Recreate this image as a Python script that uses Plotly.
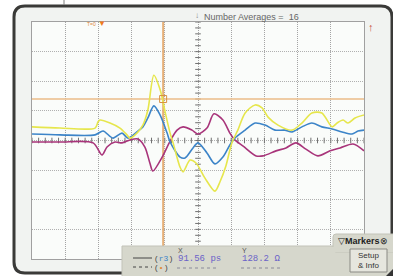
import plotly.graph_objects as go
import numpy as np

# ---- data (time and amplitude in screen divisions) ----
yellow_x = [-5.0, -4.16, -3.10, -3.01, -2.95, -2.65, -2.35, -2.14, -2.05, -1.84, -1.66, -1.51, -1.33, -1.14, -0.99,
            -0.84, -0.75, -0.54, -0.45, -0.24, -0.06, 0.21, 0.51, 0.66, 0.84, 1.02, 1.20, 1.42, 1.72, 1.93, 2.11,
            2.41, 2.83, 3.13, 3.43, 3.73, 4.04, 4.19, 4.37, 4.52, 4.73, 5.0]
yellow_y = [0.46, 0.42, 0.42, 0.63, 0.69, 0.59, 0.42, 0.19, 0.08, 0.25, 0.52, 1.03, 2.20, 1.71, 0.96,
            0.25, -0.08, -0.90, -1.06, -0.66, -0.76, -1.27, -1.71, -1.40, -0.86, -0.08, 0.35, 0.93, 1.20, 1.10, 0.79,
            0.52, 0.35, 0.59, 0.93, 0.93, 0.46, 0.59, 0.69, 0.59, 0.76, 0.86]

blue_x = [-5.0, -4.16, -3.10, -2.86, -2.56, -2.29, -2.11, -1.84, -1.66, -1.51, -1.33, -1.14, -0.93, -0.84, -0.54,
          -0.39, -0.15, 0.0, 0.27, 0.51, 0.75, 0.96, 1.11, 1.42, 1.72, 2.02, 2.32, 2.62, 2.83, 3.13, 3.43, 3.73,
          4.04, 4.34, 4.64, 4.82, 5.0]
blue_y = [0.22, 0.19, 0.19, 0.32, 0.08, 0.25, 0.08, 0.29, 0.46, 0.76, 1.17, 0.86, 0.25, -0.05, -0.56,
          -0.59, -0.25, -0.08, -0.42, -0.79, -0.56, -0.15, 0.08, 0.35, 0.59, 0.52, 0.35, 0.35, 0.29, 0.46, 0.59, 0.46,
          0.39, 0.29, 0.22, 0.32, 0.35]

magenta_x = [-5.0, -4.16, -3.16, -2.89, -2.74, -2.50, -2.29, -2.05, -1.81, -1.60, -1.45, -1.36, -1.08, -0.84, -0.63,
             -0.45, -0.18, 0.0, 0.27, 0.48, 0.75, 0.96, 1.11, 1.36, 1.75, 1.96, 2.35, 2.65, 2.95, 3.25, 3.61, 3.98,
             4.28, 4.67, 5.0]
magenta_y = [-0.05, -0.05, -0.08, -0.49, -0.22, -0.05, -0.08, 0.02, 0.05, -0.22, -0.76, -1.03, -0.56, -0.02, 0.35,
             0.46, 0.35, 0.22, 0.42, 0.90, 0.69, 0.25, 0.02, -0.19, -0.52, -0.52, -0.35, -0.25, -0.08, -0.29, -0.52,
             -0.35, -0.25, -0.12, -0.35]

cursor_x = -1.05
cursor_y = 1.40

title_text = "Number Averages =  16"
x_readout = "91.56 ps"
y_readout = "128.2 Ω"

# ---- layout helpers (pixel -> paper) ----
W, H = 393, 276
def px(x):
    return x / W
def py(y):
    return 1 - y / H

def rrect(x0, y0, x1, y1, r):
    return (f"M{px(x0+r)},{py(y0)} L{px(x1-r)},{py(y0)} Q{px(x1)},{py(y0)} {px(x1)},{py(y0+r)} "
            f"L{px(x1)},{py(y1-r)} Q{px(x1)},{py(y1)} {px(x1-r)},{py(y1)} "
            f"L{px(x0+r)},{py(y1)} Q{px(x0)},{py(y1)} {px(x0)},{py(y1-r)} "
            f"L{px(x0)},{py(y0+r)} Q{px(x0)},{py(y0)} {px(x0+r)},{py(y0)} Z")

fig = go.Figure()

# centre-line minor ticks
tx = [v / 5 for v in range(-25, 26)]
ty = [v / 5 for v in range(-20, 21)]
fig.add_trace(go.Scatter(x=tx, y=[0] * len(tx), mode="markers", hoverinfo="skip",
                         marker=dict(symbol="line-ns", size=4, line=dict(width=1, color="#707070"))))
fig.add_trace(go.Scatter(x=[0] * len(ty), y=ty, mode="markers", hoverinfo="skip",
                         marker=dict(symbol="line-ew", size=4, line=dict(width=1, color="#707070"))))

# cursors
fig.add_trace(go.Scatter(x=[-5, 5], y=[cursor_y, cursor_y], mode="lines",
                         line=dict(color="#ebbc88", width=1.3), hoverinfo="skip"))
fig.add_trace(go.Scatter(x=[cursor_x, cursor_x], y=[-4, 4], mode="lines",
                         line=dict(color="#e6b078", width=2), hoverinfo="skip"))

# traces
fig.add_trace(go.Scatter(x=magenta_x, y=magenta_y, mode="lines", line=dict(color="#a8347a", width=1.6, shape="spline", smoothing=0.8)))
fig.add_trace(go.Scatter(x=blue_x, y=blue_y, mode="lines", line=dict(color="#3c84c8", width=1.6, shape="spline", smoothing=0.8)))
fig.add_trace(go.Scatter(x=yellow_x, y=yellow_y, mode="lines", line=dict(color="#e6e64c", width=1.6, shape="spline", smoothing=0.8)))

# cursor marker square
fig.add_trace(go.Scatter(x=[cursor_x], y=[cursor_y], mode="markers", hoverinfo="skip",
                         marker=dict(symbol="square-open", size=7, color="#d89040", line=dict(width=1))))

panel = "#d6d7cc"
shapes = [
    # instrument frame
    dict(type="path", path=rrect(14, 6, 392, 273, 11), xref="paper", yref="paper",
         line=dict(color="#3a3a38", width=3), fillcolor="#f1f3f1", layer="below"),
    # plot area background
    dict(type="rect", xref="paper", yref="paper", x0=px(32), x1=px(364), y0=py(259), y1=py(22),
         line=dict(width=0), fillcolor="#fafcfa", layer="below"),
    # top lead line
    dict(type="line", xref="paper", yref="paper", x0=px(64), x1=px(64), y0=py(0), y1=py(5),
         line=dict(color="#808080", width=1)),
    # bottom panel
    dict(type="rect", xref="paper", yref="paper", x0=px(122), x1=px(394), y0=py(277), y1=py(246),
         line=dict(color="#c2c3b8", width=1), fillcolor=panel, layer="above"),
    dict(type="path", path=rrect(333, 234, 400, 252, 3), xref="paper", yref="paper",
         line=dict(color="#c2c3b8", width=1), fillcolor=panel, layer="above"),
    dict(type="rect", xref="paper", yref="paper", x0=px(123), x1=px(393), y0=py(252), y1=py(247),
         line=dict(width=0), fillcolor=panel, layer="above"),
    # setup button
    dict(type="rect", xref="paper", yref="paper", x0=px(350), x1=px(387), y0=py(272), y1=py(249),
         line=dict(color="#8a8a84", width=1), fillcolor="#e6e6de", layer="above"),
    # legend line samples
    dict(type="line", xref="paper", yref="paper", x0=px(133), x1=px(152), y0=py(258), y1=py(258),
         line=dict(color="#444", width=1), layer="above"),
    dict(type="line", xref="paper", yref="paper", x0=px(133), x1=px(152), y0=py(267), y1=py(267),
         line=dict(color="#444", width=1, dash="dot"), layer="above"),
    # readout underlines
    dict(type="line", xref="paper", yref="paper", x0=px(177), x1=px(219), y0=py(268), y1=py(268),
         line=dict(color="#8a8a9a", width=1, dash="dot"), layer="above"),
    dict(type="line", xref="paper", yref="paper", x0=px(241), x1=px(283), y0=py(268), y1=py(268),
         line=dict(color="#8a8a9a", width=1, dash="dot"), layer="above"),
    # corner piece
    dict(type="path", path=f"M{px(386)},{py(276)} L{px(393)},{py(269)} L{px(393)},{py(276)} Z",
         xref="paper", yref="paper", line=dict(width=0), fillcolor="#333", layer="above"),
]

ann = []
def text(x, y, s, size=9, color="#555", xanchor="left", family="Liberation Sans", **kw):
    ann.append(dict(x=px(x), y=py(y), xref="paper", yref="paper", text=s, showarrow=False,
                    xanchor=xanchor, yanchor="middle", font=dict(size=size, color=color, family=family), **kw))

text(202, 17, title_text, 9, "#666")
text(197, 15, "↓", 8, "#888", xanchor="center")
text(371, 27, "↑", 11, "#c85040", xanchor="center")
text(91, 24, "T=0", 5, "#e08838", xanchor="center")
text(102, 24, "▼", 8, "#f07a20", xanchor="center")
text(152, 258, "(<span style='color:#3c84c8'>r3</span>)", 8, "#444", family="Liberation Mono")
text(152, 267, "(<span style='color:#e08838'>•</span>)", 8, "#444", family="Liberation Mono")
text(180, 250, "X", 7, "#555", xanchor="center")
text(244, 250, "Y", 7, "#555", xanchor="center")
text(176, 259, x_readout, 9, "#6a62c8", family="Liberation Mono")
text(240, 259, y_readout, 9, "#6a62c8", family="Liberation Mono")
text(336, 240.5, "▽<b>Markers</b>⊗", 9, "#222")
text(368.5, 260.5, "Setup<br>& Info", 8, "#333", xanchor="center")

fig.update_layout(
    width=W, height=H, margin=dict(l=0, r=0, t=0, b=0),
    paper_bgcolor="white", plot_bgcolor="rgba(0,0,0,0)",
    showlegend=False, shapes=shapes, annotations=ann,
    xaxis=dict(domain=[px(32), px(364)], range=[-5, 5], dtick=1, showticklabels=False, ticks="",
               showgrid=True, gridcolor="#a4a4a4", griddash="1px,1px", gridwidth=1, zeroline=False,
               showline=True, mirror=True, linecolor="#a0a0a0", linewidth=1, fixedrange=True),
    yaxis=dict(domain=[py(259), py(22)], range=[-4, 4], dtick=1, showticklabels=False, ticks="",
               showgrid=True, gridcolor="#b0b0b0", griddash="1px,1px", gridwidth=1, zeroline=False,
               showline=True, mirror=True, linecolor="#a0a0a0", linewidth=1, fixedrange=True),
)

fig.write_html("out.html", config={"displayModeBar": False},
               post_script="document.body.style.margin='0px';document.body.style.overflow='hidden';")
